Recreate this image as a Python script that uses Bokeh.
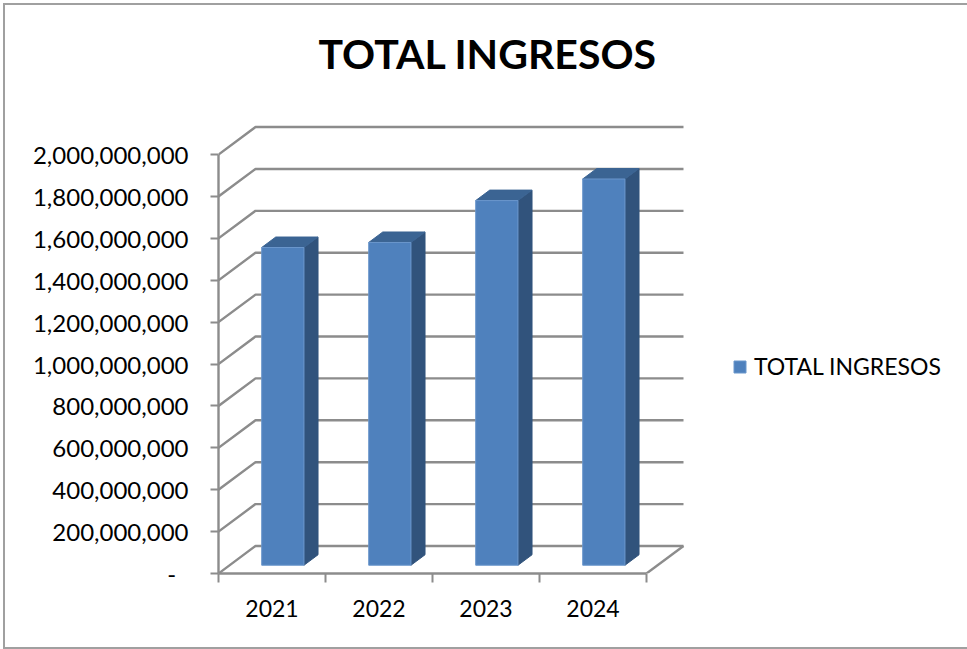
from bokeh.plotting import figure
from bokeh.models import Range1d, LinearAxis, FixedTicker, Legend, LegendItem, InlineStyleSheet
from bokeh.embed import file_html
from bokeh.resources import INLINE

years = ["2021", "2022", "2023", "2024"]
total_ingresos = [1517000000, 1541000000, 1741000000, 1844000000]
y_ticks = [0, 200000000, 400000000, 600000000, 800000000, 1000000000,
           1200000000, 1400000000, 1600000000, 1800000000, 2000000000]
title_text = "TOTAL INGRESOS"
series_name = "TOTAL INGRESOS"

W, H = 967, 649
LEFT, BASE, TOP = 218, 572.5, 82            # frame edges, in picture pixels
CAT_PX = 107.0                              # pixels per category
VAL_PX = 418.5 / 2e9                        # pixels per value unit
DX = 37 / CAT_PX                            # full wall depth, x
DY = 27.5 / VAL_PX                          # full wall depth, y
BAR_W = 0.395
D0, D1 = 0.30, 0.68                         # bar depth within the floor

FONT = "Lato"
GREY = "#8C8C8C"

p = figure(width=W, height=H, output_backend="svg", toolbar_location=None,
           x_range=Range1d(0, (W - LEFT) / CAT_PX),
           y_range=Range1d(0, (BASE - TOP) / VAL_PX),
           x_axis_type=None, y_axis_type=None,
           min_border_left=LEFT, min_border_right=0,
           min_border_bottom=int(H - BASE), min_border_top=TOP,
           outline_line_color=None, margin=(0, 0, 0, 0))
p.grid.visible = False

# Chart area border (three sides visible, as in the reference)
p.stylesheets = [InlineStyleSheet(css=(
    ":host::after{content:'';position:absolute;left:3px;top:3px;right:0;bottom:0;"
    "border:2px solid #A0A0A0;border-right:none;pointer-events:none;"
    "box-sizing:border-box;z-index:10}"))]

# Walls
n = len(years)
xs, ys = [], []
for t in y_ticks:
    xs.append([0, DX, n + DX])
    ys.append([t, t + DY, t + DY])
p.multi_line(xs, ys, line_color=GREY, line_width=2.4)
p.line([n, n + DX], [0, DY], line_color=GREY, line_width=2.4)

# Bars
lefts = [i + 0.5 - 0.40 / 2 + D0 * DX for i in range(n)]
rights = [l + BAR_W for l in lefts]
bot0 = D0 * DY
bot1 = D1 * DY
off_x = (D1 - D0) * DX
tops = [v + bot0 for v in total_ingresos]

side_x = [[r, r + off_x, r + off_x, r] for r in rights]
side_y = [[bot0, bot1, t + bot1 - bot0, t] for t in tops]
p.patches(side_x, side_y, fill_color="#31537C", line_color="#31537C", line_width=1)
top_x = [[l, l + off_x, r + off_x, r] for l, r in zip(lefts, rights)]
top_y = [[t, t + bot1 - bot0, t + bot1 - bot0, t] for t in tops]
p.patches(top_x, top_y, fill_color="#3B6493", line_color="#3B6493", line_width=1)
front = p.quad(left=lefts, right=rights, bottom=bot0, top=tops,
               fill_color="#4F81BD", line_color="#6B97CC", line_width=1)

# Axes
yax = LinearAxis(ticker=FixedTicker(ticks=y_ticks), bounds=(0, 2e9))
yax.formatter.use_scientific = False
yax.major_label_overrides = {t: f"{t:,}" for t in y_ticks}
yax.major_label_overrides[0] = "-\u00a0\u00a0"
yax.axis_line_color = GREY
yax.axis_line_width = 2.4
yax.major_tick_line_color = GREY
yax.major_tick_line_width = 2
yax.major_tick_out = 8
yax.major_tick_in = 0
yax.minor_tick_line_color = None
yax.major_label_text_font = FONT
yax.major_label_text_font_size = "24px"
yax.major_label_text_color = "black"
yax.major_label_standoff = 22
p.add_layout(yax, "left")

xax = LinearAxis(ticker=FixedTicker(ticks=[i + 0.5 for i in range(n)],
                                    minor_ticks=list(range(n + 1))),
                 bounds=(0, n))
xax.major_label_overrides = {i + 0.5: years[i] for i in range(n)}
xax.axis_line_color = GREY
xax.axis_line_width = 2.4
xax.major_tick_line_color = None
xax.minor_tick_line_color = GREY
xax.minor_tick_line_width = 2
xax.minor_tick_out = 9
xax.minor_tick_in = 0
xax.major_label_text_font = FONT
xax.major_label_text_font_size = "23px"
xax.major_label_text_color = "black"
xax.major_label_standoff = 17
p.add_layout(xax, "below")

# Title
p.title.text = title_text
p.title.text_font = FONT
p.title.text_font_style = "bold"
p.title.text_font_size = "41px"
p.title.text_color = "black"
p.title.align = "left"
p.title.offset = 100

# Legend
legend = Legend(items=[LegendItem(label=series_name, renderers=[front])],
                location=(514, 193), border_line_color=None,
                background_fill_alpha=0, glyph_width=15, glyph_height=15,
                label_standoff=7, padding=0, margin=0,
                label_text_font=FONT, label_text_font_size="23px",
                label_text_color="black")
p.add_layout(legend, "center")

open("out.html", "w").write(file_html(p, INLINE))
